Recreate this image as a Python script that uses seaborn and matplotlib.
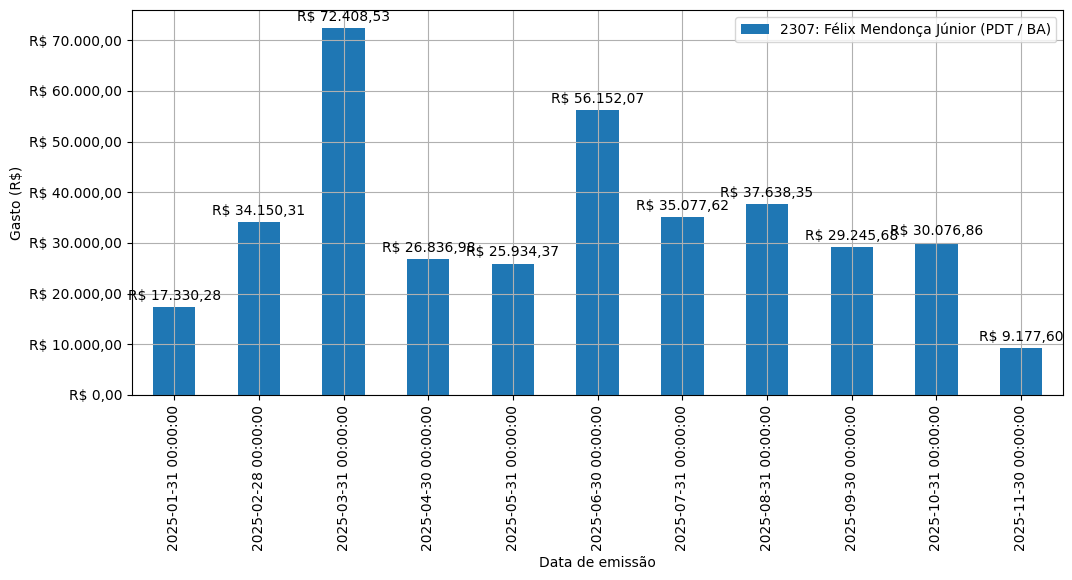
import numpy as np
import pandas as pd
import matplotlib
matplotlib.use('Agg')
import matplotlib.pyplot as plt
import seaborn as sns
from matplotlib.ticker import FuncFormatter

# dados mensais
datas = ['2025-01-31 00:00:00', '2025-02-28 00:00:00', '2025-03-31 00:00:00',
         '2025-04-30 00:00:00', '2025-05-31 00:00:00', '2025-06-30 00:00:00',
         '2025-07-31 00:00:00', '2025-08-31 00:00:00', '2025-09-30 00:00:00',
         '2025-10-31 00:00:00', '2025-11-30 00:00:00']
gastos = [17330.28, 34150.31, 72408.53, 26836.98, 25934.37, 56152.07,
          35077.62, 37638.35, 29245.68, 30076.86, 9177.60]
legenda = '2307: Félix Mendonça Júnior (PDT / BA)'


def brl(v, pos=None):
    s = f'{v:,.2f}'
    s = s.replace(',', 'X').replace('.', ',').replace('X', '.')
    return f'R$ {s}'


df = pd.DataFrame({'Data de emissão': datas, 'Gasto': gastos})

# estilo padrão do matplotlib (como no gráfico do pandas)
plt.style.use('default')
plt.rcParams['font.family'] = ['DejaVu Sans']

fig, ax = plt.subplots(figsize=(10.72, 5.8), dpi=100)
sns.barplot(data=df, x='Data de emissão', y='Gasto', color='#1f77b4',
            saturation=1, width=0.5, linewidth=0, label=legenda, ax=ax)

ax.bar_label(ax.containers[0], labels=[brl(v) for v in gastos], padding=3, fontsize=10)
ax.yaxis.set_major_formatter(FuncFormatter(brl))
ax.set_ylim(0, 76000)
ax.set_ylabel('Gasto (R$)')
ax.set_xlabel('Data de emissão')
ax.tick_params(axis='x', rotation=90)
ax.set_axisbelow('line')
ax.grid(True)
ax.legend(loc='upper right')

plt.subplots_adjust(left=0.123, right=0.992, top=0.983, bottom=0.319)
plt.savefig('out.png', dpi=100)
